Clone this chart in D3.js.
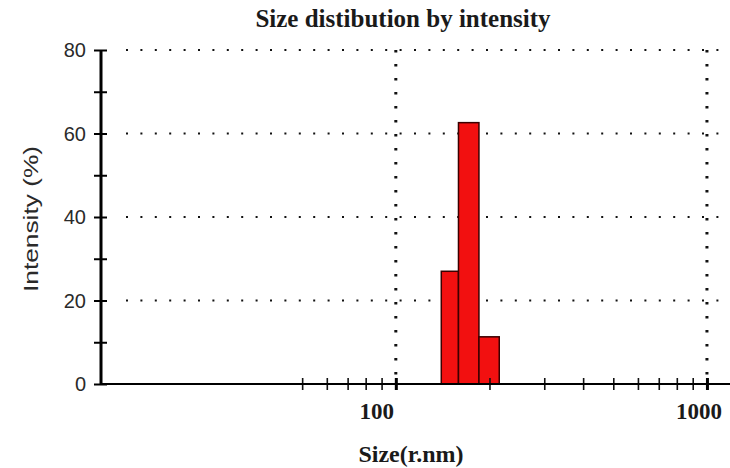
<!DOCTYPE html>
<html>
<head>
<meta charset="utf-8">
<script src="https://cdn.jsdelivr.net/npm/d3@7/dist/d3.min.js"></script>
<style>
  html, body { margin: 0; padding: 0; background: #fff; }
  svg { display: block; }
</style>
</head>
<body>
<svg id="chart" width="730" height="468"></svg>
<script>
// ---- data ----
const title = "Size distibution by intensity";
const xTitle = "Size(r.nm)";
const yTitle = "Intensity (%)";
const binLow  = [140, 159, 185];      // nm, bar left edges
const binHigh = [159, 185, 215];      // nm, bar right edges
const intensity = [27, 62.6, 11.3];   // %
const xDomain = [11.2, 1186];
const yDomain = [0, 80];
const yMajorTicks = [0, 20, 40, 60, 80];
const yMinorTicks = [10, 30, 50, 70];
const xMajorTicks = [100, 1000];
const xMinorTicks = [50, 60, 70, 80, 90, 200, 300, 400, 500, 600, 700, 800, 900];
const xTickLabels = ["100", "1000"];

// ---- layout ----
const svg = d3.select("#chart");
const pLeft = 100, pRight = 730, pTop = 50, pBottom = 384;

const x = d3.scaleLog().domain(xDomain).range([pLeft, pRight]);
const y = d3.scaleLinear().domain(yDomain).range([pBottom, pTop]);

// horizontal dotted gridlines
svg.append("g").selectAll("line")
  .data(yMajorTicks.filter(d => d > 0))
  .join("line")
  .attr("x1", pLeft + 26).attr("x2", pRight)
  .attr("y1", d => y(d)).attr("y2", d => y(d))
  .attr("stroke", "#111").attr("stroke-width", 2)
  .attr("stroke-dasharray", "2,12.4");

// vertical dotted gridlines
svg.append("g").selectAll("line")
  .data(xMajorTicks)
  .join("line")
  .attr("x1", d => x(d)).attr("x2", d => x(d))
  .attr("y1", pTop).attr("y2", pBottom)
  .attr("stroke", "#111").attr("stroke-width", 3)
  .attr("stroke-dasharray", "2.5,11.5");

// bars
svg.append("g").selectAll("rect")
  .data(intensity)
  .join("rect")
  .attr("x", (d, i) => x(binLow[i]))
  .attr("width", (d, i) => x(binHigh[i]) - x(binLow[i]))
  .attr("y", d => y(d))
  .attr("height", d => y(0) - y(d))
  .attr("fill", "#f21010")
  .attr("stroke", "#3a0000")
  .attr("stroke-width", 1.5);

// x ticks (via axis, straddling the axis line)
const xMinorAxis = d3.axisBottom(x).tickValues(xMinorTicks).tickFormat("").tickSizeInner(12).tickSizeOuter(0);
const gxm = svg.append("g").attr("transform", `translate(0,${pBottom - 6})`).call(xMinorAxis);
gxm.select(".domain").remove();
gxm.selectAll(".tick line").attr("stroke", "#111").attr("stroke-width", 1.6);

const xMajorAxis = d3.axisBottom(x).tickValues(xMajorTicks).tickFormat("").tickSizeInner(12).tickSizeOuter(0);
const gxM = svg.append("g").attr("transform", `translate(0,${pBottom - 6})`).call(xMajorAxis);
gxM.select(".domain").remove();
gxM.selectAll(".tick line").attr("stroke", "#000").attr("stroke-width", 3);

// x axis line
svg.append("line")
  .attr("x1", pLeft).attr("x2", pRight)
  .attr("y1", pBottom).attr("y2", pBottom)
  .attr("stroke", "#000").attr("stroke-width", 2);

// y ticks
const yAxisMajor = d3.axisLeft(y).tickValues(yMajorTicks).tickFormat("").tickSizeInner(13).tickSizeOuter(0);
const gyM = svg.append("g").attr("transform", `translate(${pLeft + 7},0)`).call(yAxisMajor);
gyM.select(".domain").remove();
gyM.selectAll(".tick line").attr("stroke", "#000").attr("stroke-width", 2);

const yAxisMinor = d3.axisLeft(y).tickValues(yMinorTicks).tickFormat("").tickSizeInner(13).tickSizeOuter(0);
const gym = svg.append("g").attr("transform", `translate(${pLeft + 7},0)`).call(yAxisMinor);
gym.select(".domain").remove();
gym.selectAll(".tick line").attr("stroke", "#000").attr("stroke-width", 2);

// y axis line
svg.append("line")
  .attr("x1", pLeft + 1).attr("x2", pLeft + 1)
  .attr("y1", pTop).attr("y2", pBottom + 1)
  .attr("stroke", "#000").attr("stroke-width", 3);

// y tick labels
svg.append("g").selectAll("text")
  .data(yMajorTicks)
  .join("text")
  .attr("x", pLeft - 14)
  .attr("y", d => y(d) + 7)
  .attr("text-anchor", "end")
  .attr("font-family", "'Liberation Sans', Arial, sans-serif")
  .attr("font-size", 20)
  .attr("fill", "#2a2a2a")
  .text(d => d);

// x tick labels
const xLabelShift = [-19, -8];
svg.append("g").selectAll("text")
  .data(xMajorTicks)
  .join("text")
  .attr("x", (d, i) => x(d) + xLabelShift[i])
  .attr("y", 419)
  .attr("text-anchor", "middle")
  .attr("font-family", "'Liberation Serif', 'Times New Roman', serif")
  .attr("font-weight", "bold")
  .attr("font-size", 23)
  .attr("fill", "#1a1a1a")
  .text((d, i) => xTickLabels[i]);

// title
svg.append("text")
  .attr("x", 403).attr("y", 27)
  .attr("text-anchor", "middle")
  .attr("font-family", "'Liberation Serif', 'Times New Roman', serif")
  .attr("font-weight", "bold")
  .attr("font-size", 25)
  .attr("fill", "#1a1a1a")
  .text(title);

// x title
svg.append("text")
  .attr("x", 411).attr("y", 462)
  .attr("text-anchor", "middle")
  .attr("font-family", "'Liberation Serif', 'Times New Roman', serif")
  .attr("font-weight", "bold")
  .attr("font-size", 24)
  .attr("fill", "#1a1a1a")
  .text(xTitle);

// y title
svg.append("text")
  .attr("transform", "translate(38,219) rotate(-90)")
  .attr("text-anchor", "middle")
  .attr("font-family", "'Liberation Sans', Arial, sans-serif")
  .attr("font-size", 20)
  .attr("fill", "#2a2a2a")
  .attr("textLength", 146)
  .attr("lengthAdjust", "spacingAndGlyphs")
  .text(yTitle);
</script>
</body>
</html>
